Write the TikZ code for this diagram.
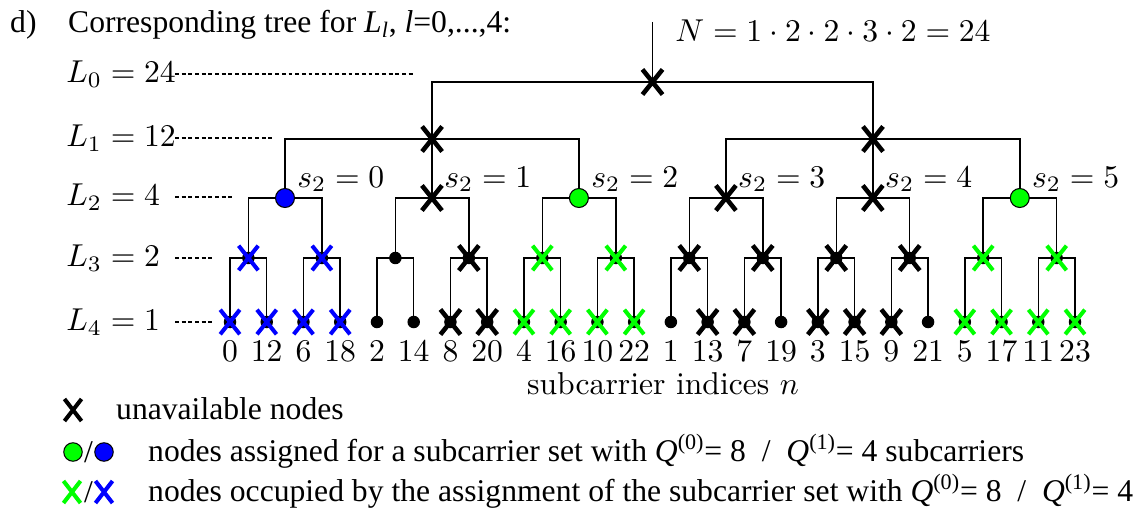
\documentclass[tikz,border=0pt]{standalone}
\usepackage{fontspec}
\newfontfamily\tnr{Liberation Serif}
\newcommand{\enl}[1]{\scalebox{1.8}{#1}}
\usetikzlibrary{shapes.misc}
\begin{document}
\begin{tikzpicture}[x=0.02cm, y=-0.02cm,
  every node/.style={font=\fontsize{10}{12}\selectfont},
  txt/.style={font=\tnr\fontsize{18}{22}\selectfont},
  branch/.style={line width=0.85pt},
  guide/.style={line width=0.6pt, dash pattern=on 2.2pt off 1.6pt},
  xnode/.style={cross out, draw=#1, line width=2.3pt, minimum width=0.31cm, minimum height=0.41cm, inner sep=0pt},
  snode/.style={circle, draw=black, fill=#1, line width=0.6pt, minimum size=0.38cm, inner sep=0pt},
  dot/.style={circle, fill=black, minimum size=0.25cm, inner sep=0pt}]
\useasboundingbox (0,0) rectangle (1142,513);
% title
\node[txt, anchor=base west] (tag) at (4,33) {d)};
\node[txt, anchor=base west] (title) at (62,33) {Corresponding tree for \textit{L}\textsubscript{\textit{l}}, \textit{l}=0,...,4:};
\node[anchor=west, inner sep=0pt] (N) at (675,31) {\enl{$N = 1\cdot 2\cdot 2\cdot 3\cdot 2 = 24$}};
% levels
\foreach \k/\v/\y/\e in {0/24/74/415, 1/12/138/272, 2/4/197/232, 3/2/258/215, 4/1/322/215} {
  \node[anchor=west, inner sep=0pt] (L\k) at (66,\y) {\enl{$L_\k = \v$}};
  \coordinate (h\k) at (175,\y);
  \coordinate (g\k) at (\e,\y);
  \draw[guide] (h\k) -- (g\k);
}
% tree
\coordinate (top) at (652.5,22);
\coordinate (r) at (652.5,82);
\foreach \k in {0,1} \coordinate (a\k) at ({432.1+440.9*\k},139);
\foreach \k in {0,...,5} \coordinate (b\k) at ({285+146.96*\k},198);
\foreach \k in {0,...,11} \coordinate (c\k) at ({248.4+73.48*\k},258);
\foreach \lab [count=\k from 0] in {0,12,6,18,2,14,8,20,4,16,10,22,1,13,7,19,3,15,9,21,5,17,11,23} {
  \coordinate (l\k) at ({230+36.74*\k},322);
  \node[anchor=base, inner sep=0pt] (n\k) at ({230+36.74*\k},361) {\enl{$\lab$}};
}
\node[anchor=base, inner sep=0pt] (axis) at (663,394) {\enl{subcarrier indices $n$}};
\draw[branch, ->] (top) -- (r);
\foreach \k in {0,1} \draw[branch] (r) -| (a\k);
\foreach \k in {0,1,2} \draw[branch] (a0) -| (b\k);
\foreach \k in {3,4,5} \draw[branch] (a1) -| (b\k);
\foreach \k [evaluate=\k as \i using int(floor(\k/2))] in {0,...,11} \draw[branch] (b\i) -| (c\k);
\foreach \k [evaluate=\k as \i using int(floor(\k/2))] in {0,...,23} \draw[branch] (c\i) -| (l\k);
% markers
\foreach \k in {0,...,11} \node[dot] at (c\k) {};
\foreach \k in {0,...,23} \node[dot] at (l\k) {};
\foreach \p/\col in {l0/blue,l1/blue,l2/blue,l3/blue,c0/blue,c1/blue,
  l8/green,l9/green,l10/green,l11/green,l20/green,l21/green,l22/green,l23/green,
  c4/green,c5/green,c10/green,c11/green}
  \node[xnode=\col] at (\p) {};
\foreach \p in {l6,l7,l13,l14,l16,l17,l18,c3,c6,c7,c8,c9,b1,b3,b4,a0,a1,r}
  \node[xnode=black, line width=2.6pt] at (\p) {};
\foreach \p/\col in {b0/blue,b2/green,b5/green} \node[snode=\col] at (\p) {};
\foreach \k in {0,...,5} \node[anchor=base west, inner sep=0pt, xshift=0.24cm, yshift=0.22cm] (s\k) at (b\k) {\enl{$s_2 = \k$}};
% legend
\node[xnode=black, minimum width=0.26cm, minimum height=0.36cm] (k0) at (73,410) {};
\node[txt, anchor=base west] (e0) at (110,419) {unavailable nodes};
\node[snode=green, minimum size=0.37cm] (k1) at (73,452) {};
\node[txt] (v1) at (88.5,452) {/};
\node[snode=blue, minimum size=0.37cm] (k2) at (104,452) {};
\node[txt, anchor=base west] (e1) at (142,461) {nodes assigned for a subcarrier set with \textit{Q}\textsuperscript{(0)}= 8 ~/~ \textit{Q}\textsuperscript{(1)}= 4 subcarriers};
\node[xnode=green, minimum width=0.26cm, minimum height=0.36cm] (k3) at (72,492) {};
\node[txt] (v2) at (88.5,492) {/};
\node[xnode=blue, minimum width=0.26cm, minimum height=0.36cm] (k4) at (104,492) {};
\node[txt, anchor=base west] (e2) at (142,501) {nodes occupied by the assignment of the subcarrier set with \textit{Q}\textsuperscript{(0)}= 8 ~/~ \textit{Q}\textsuperscript{(1)}= 4};
\end{tikzpicture}
\end{document}
